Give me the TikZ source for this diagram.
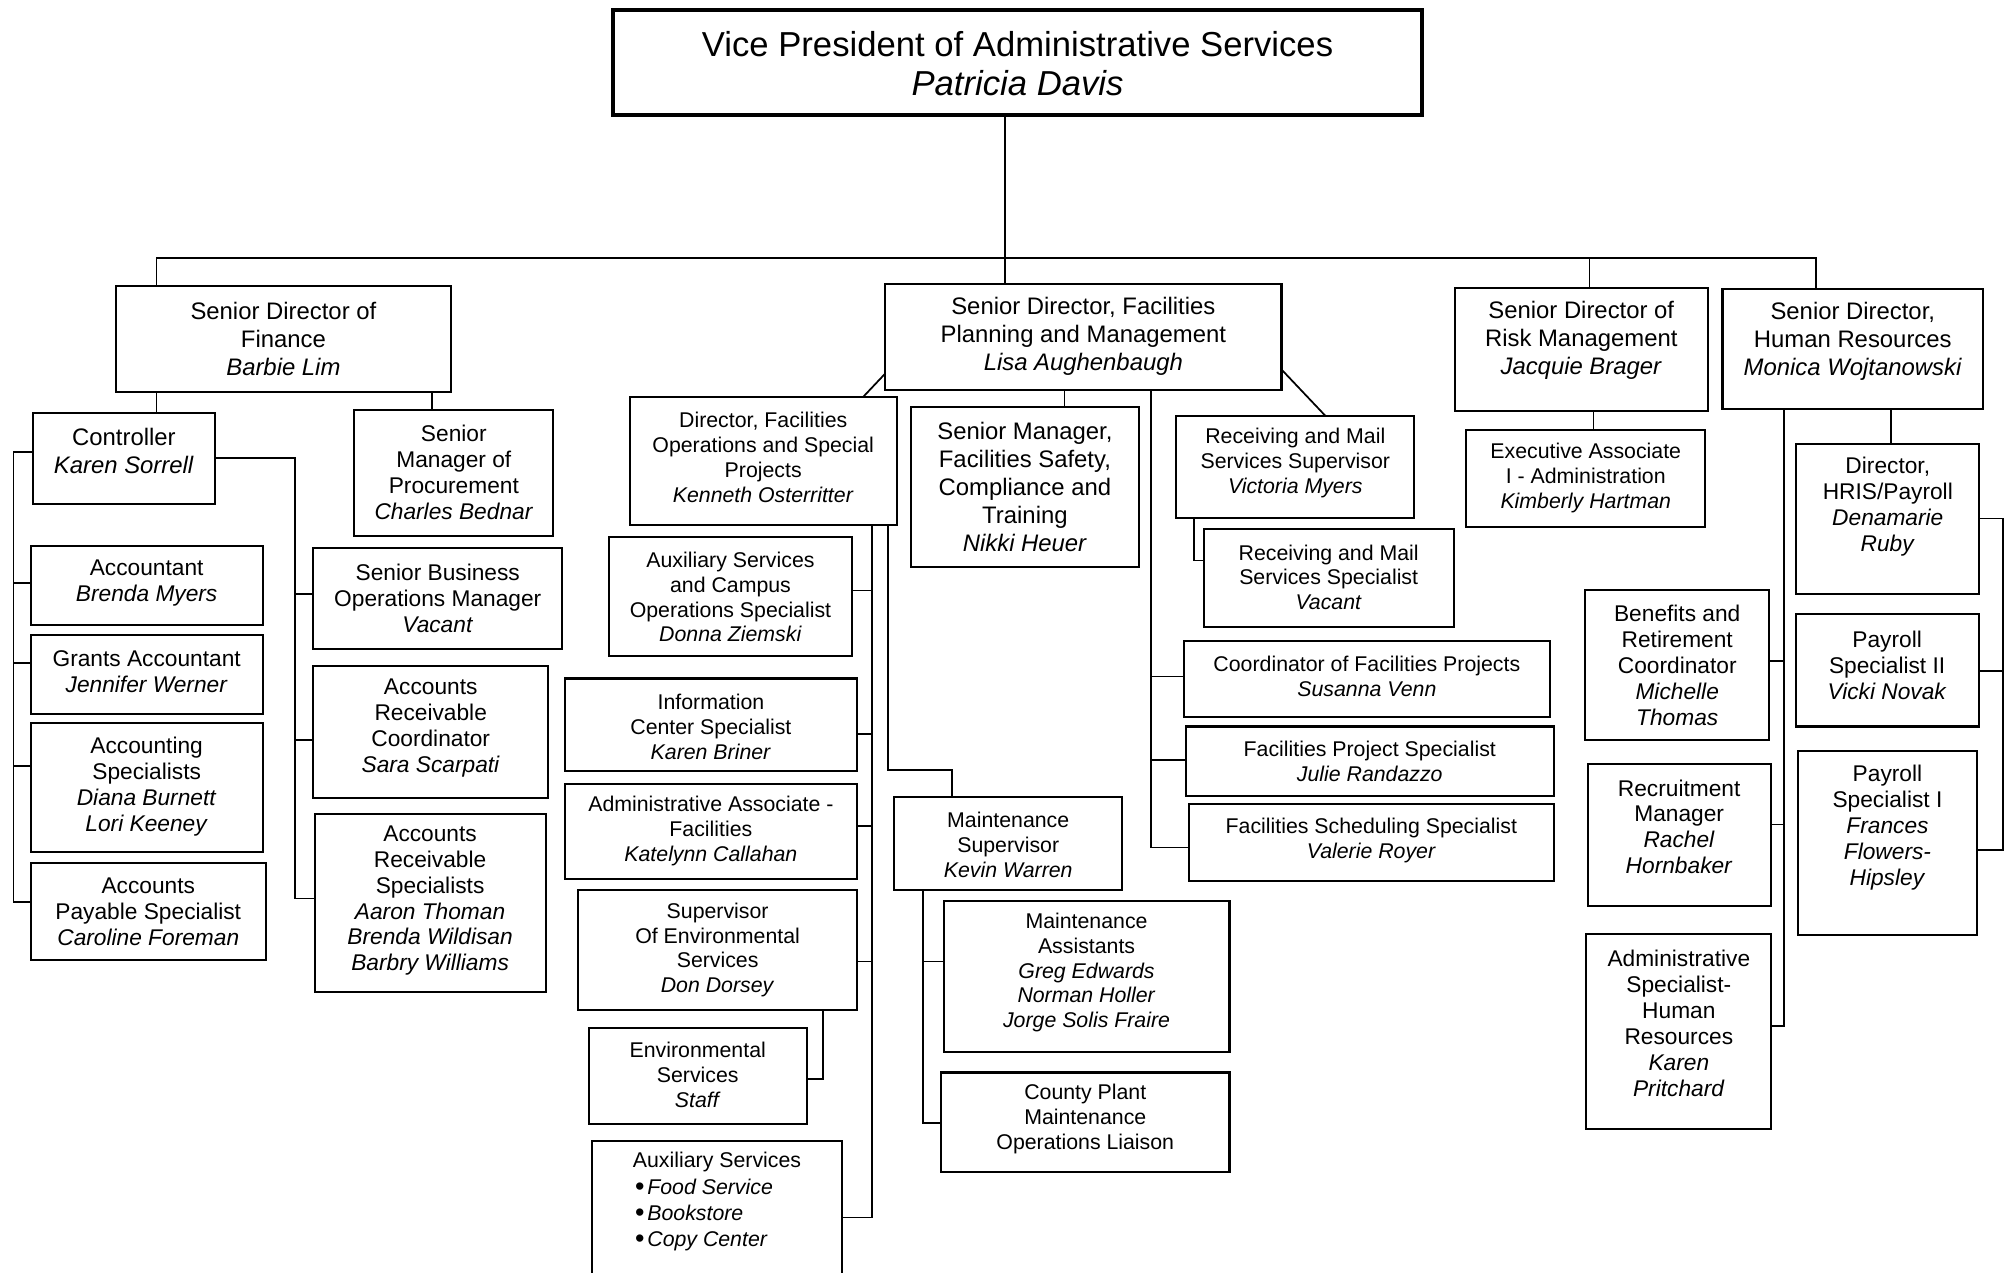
\documentclass[tikz,border=0pt]{standalone}
\usepackage{fontspec}
\setmainfont{Liberation Sans}
\newcommand\bx[8]{%
  \node[box, minimum width={#4-#2}, minimum height={#5-#3}, anchor=north west] (#1) at (#2,#3) {};
  \node[#6] (#1t) at ({(#2+#4)/2},#7) {#8};
}
\newcommand\brW[3]{\coordinate (tmpb) at (#1,#2); \draw[conn] (tmpb) -- (#3.west |- tmpb);}
\newcommand\brE[3]{\coordinate (tmpb) at (#1,#2); \draw[conn] (tmpb) -- (#3.east |- tmpb);}
\newcommand\bul{{\fontsize{21}{20}\selectfont\raisebox{-0.6pt}{•}}\hspace{2.2pt}}
\begin{document}
\begin{tikzpicture}[x=1pt,y=-1pt,
  box/.style={draw, line width=1.6pt, inner sep=0pt, outer sep=0pt},
  conn/.style={line width=1.35pt},
  txt/.style={align=center, inner sep=0pt},
  big/.style={txt, font=\fontsize{18.6}{21.8}\selectfont},
  mid/.style={txt, font=\fontsize{17.7}{20.2}\selectfont},
  sml/.style={txt, font=\fontsize{16.6}{19.4}\selectfont},
  ttl/.style={txt, font=\fontsize{27}{31}\selectfont}]
\useasboundingbox (0,0) rectangle (1568,991);
\fill[white] (0,0) rectangle (1568,991);

% top
\node[box, line width=3pt, minimum width=630.2, minimum height=81.7, anchor=north west] (vp) at (477.5,8) {};
\node[ttl] (vpt) at (792.6,49.5) {Vice President of Administrative Services\\\textit{Patricia Davis}};

\bx{fin}{90.5}{223}{351}{305.6}{big}{264}{Senior Director of\\Finance\\\textit{Barbie Lim}}
\bx{fac}{689.5}{221}{998.2}{303.7}{big}{262}{Senior Director, Facilities\\Planning and Management\\\textit{Lisa Aughenbaugh}}
\bx{risk}{1133.2}{224.2}{1330.2}{320.2}{big}{265}{Senior Director of\\Risk Management\\\textit{Jacquie Brager}}
\bx{hr}{1341.7}{224.8}{1544.7}{318.3}{big}{265.5}{Senior Director,\\Human Resources\\\textit{Monica Wojtanowski}}

% finance
\bx{ctrl}{25.5}{321.5}{167.5}{392.7}{big}{351.5}{Controller\\\textit{Karen Sorrell}}
\bx{proc}{276}{319}{431}{417.2}{mid}{368}{Senior\\Manager of\\Procurement\\\textit{Charles Bednar}}
\bx{acct}{24}{425}{204.5}{486.5}{mid}{454}{Accountant\\\textit{Brenda Myers}}
\bx{grants}{24}{494.4}{204.5}{555.8}{mid}{523}{Grants Accountant\\\textit{Jennifer Werner}}
\bx{acctspec}{24}{563}{204.5}{664}{mid}{612.5}{Accounting\\Specialists\\\textit{Diana Burnett}\\\textit{Lori Keeney}}
\bx{ap}{24}{672}{207}{747.7}{mid}{710.5}{Accounts\\Payable Specialist\\\textit{Caroline Foreman}}
\bx{sbo}{244}{426.7}{438}{505.5}{mid}{466}{Senior Business\\Operations Manager\\\textit{Vacant}}
\bx{arc}{244}{518.7}{427}{621.6}{mid}{567}{Accounts\\Receivable\\Coordinator\\\textit{Sara Scarpati}}
\bx{ars}{245}{634.1}{425}{772.8}{mid}{701.5}{Accounts\\Receivable\\Specialists\\\textit{Aaron Thoman}\\\textit{Brenda Wildisan}\\\textit{Barbry Williams}}

% facilities
\bx{dirops}{490.5}{309}{698.5}{408.6}{sml}{356}{Director, Facilities\\Operations and Special\\Projects\\\textit{Kenneth Osterritter}}
\bx{auxcamp}{474}{418}{664}{511.2}{sml}{465}{Auxiliary Services\\and Campus\\Operations Specialist\\\textit{Donna Ziemski}}
\bx{info}{440}{528.5}{667.5}{600.5}{sml}{566}{Information\\Center Specialist\\\textit{Karen Briner}}
\bx{admin}{440}{610.5}{667.5}{684.4}{sml}{647}{Administrative Associate -\\Facilities\\\textit{Katelynn Callahan}}
\bx{supenv}{450.5}{693}{667.5}{786.7}{sml}{740}{Supervisor\\Of Environmental\\Services\\\textit{Don Dorsey}}
\bx{staff}{458.5}{800.5}{628.5}{875.3}{sml}{837}{Environmental\\Services\\\textit{Staff}}
\node[box, minimum width=195, minimum height=112, anchor=north west] (auxsvc) at (461,888.5) {};
\node[sml] (auxsvct) at (558.5,905) {Auxiliary Services};
\node[txt, font=\fontsize{16.6}{20.2}\selectfont, align=left, anchor=west] (auxsvcl) at (494.5,946.5) {\bul\textit{Food Service}\\\bul\textit{Bookstore}\\\bul\textit{Copy Center}};
\bx{maint}{696.5}{621}{874.2}{693.6}{sml}{658}{Maintenance\\Supervisor\\\textit{Kevin Warren}}
\bx{mass}{735}{701.7}{957.7}{819.4}{sml}{757.5}{Maintenance\\Assistants\\\textit{Greg Edwards}\\\textit{Norman Holler}\\\textit{Jorge Solis Fraire}}
\bx{county}{733}{835.4}{957.7}{913}{sml}{871.7}{County Plant\\Maintenance\\Operations Liaison}
\bx{safety}{709.5}{317.3}{887.2}{441.7}{big}{379.6}{Senior Manager,\\Facilities Safety,\\Compliance and\\Training\\\textit{Nikki Heuer}}
\bx{recsup}{916.2}{323.7}{1101.7}{403.8}{sml}{360.7}{Receiving and Mail\\Services Supervisor\\\textit{Victoria Myers}}
\bx{recspec}{937.7}{412.4}{1132.2}{488.1}{sml}{449.7}{Receiving and Mail\\Services Specialist\\\textit{Vacant}}
\bx{coord}{922.2}{499.5}{1207.2}{558.7}{sml}{527}{Coordinator of Facilities Projects\\\textit{Susanna Venn}}
\bx{projspec}{923.7}{565.9}{1210.2}{620}{sml}{593}{Facilities Project Specialist\\\textit{Julie Randazzo}}
\bx{sched}{926.2}{626.6}{1210.2}{686.3}{sml}{654.5}{Facilities Scheduling Specialist\\\textit{Valerie Royer}}

% risk
\bx{exec}{1142.2}{335.1}{1328.2}{410.5}{sml}{372.5}{Executive Associate\\I - Administration\\\textit{Kimberly Hartman}}

% hr
\bx{hris}{1399.2}{345.6}{1541.7}{463}{mid}{394.5}{Director,\\HRIS/Payroll\\\textit{Denamarie}\\\textit{Ruby}}
\bx{pay2}{1398.7}{478.5}{1541.2}{565.9}{mid}{518}{Payroll\\Specialist II\\\textit{Vicki Novak}}
\bx{pay1}{1400.2}{585.1}{1540.2}{728.5}{mid}{644.5}{Payroll\\Specialist I\\\textit{Frances}\\\textit{Flowers-}\\\textit{Hipsley}}
\bx{benefits}{1234.7}{459.5}{1378.2}{576.6}{mid}{518.5}{Benefits and\\Retirement\\Coordinator\\\textit{Michelle}\\\textit{Thomas}}
\bx{recruit}{1236.7}{595.1}{1379.2}{705.5}{mid}{644}{Recruitment\\Manager\\\textit{Rachel}\\\textit{Hornbaker}}
\bx{adminhr}{1235.7}{727.8}{1379.7}{879.7}{mid}{797}{Administrative\\Specialist-\\Human\\Resources\\\textit{Karen}\\\textit{Pritchard}}

% ---- connectors ----
\coordinate (vpx) at (783,0);
\draw[conn] (vp.south -| vpx) -- (fac.north -| vpx);
\coordinate (busL) at (122,201);
\coordinate (busR) at (1414.7,201);
\coordinate (busK) at (1238.2,201);
\draw[conn] (fin.north -| busL) -- (busL) -- (busR) -- (hr.north -| busR);
\draw[conn] (busK) -- (risk.north -| busK);
% finance
\draw[conn] (fin.south -| busL) -- (ctrl.north -| busL);
\coordinate (px) at (336.5,0);
\draw[conn] (fin.south -| px) -- (proc.north -| px);
\coordinate (cL) at (10.5,352.3);
\coordinate (cLb) at (10.5,702.4);
\draw[conn] (ctrl.west |- cL) -- (cL) -- (cLb) -- (ap.west |- cLb);
\brW{10.5}{454}{acct}
\brW{10.5}{516.5}{grants}
\brW{10.5}{596.7}{acctspec}
\coordinate (cR) at (229.5,356.8);
\coordinate (cRb) at (229.5,699.9);
\draw[conn] (ctrl.east |- cR) -- (cR) -- (cRb) -- (ars.west |- cRb);
\brW{229.5}{462.6}{sbo}
\brW{229.5}{576.3}{arc}
% facilities
\coordinate (dg) at (0,291);
\coordinate (dgx) at (672.5,0);
\draw[conn] (fac.west |- dg) -- (dirops.north -| dgx);
\coordinate (oA) at (679.5,948.3);
\draw[conn] (dirops.south -| oA) -- (oA) -- (auxsvc.east |- oA);
\brE{679.5}{460}{auxcamp}
\brE{679.5}{571.9}{info}
\brE{679.5}{643.6}{admin}
\brE{679.5}{749}{supenv}
\coordinate (oB) at (691.5,599.9);
\coordinate (oB2) at (741.5,599.9);
\draw[conn] (dirops.south -| oB) -- (oB) -- (oB2) -- (maint.north -| oB2);
\coordinate (sx) at (641,840.7);
\draw[conn] (supenv.south -| sx) -- (sx) -- (staff.east |- sx);
\coordinate (mx) at (719,874.7);
\draw[conn] (maint.south -| mx) -- (mx) -- (county.west |- mx);
\brW{719}{749}{mass}
\coordinate (sfx) at (829.2,0);
\draw[conn] (fac.south -| sfx) -- (safety.north -| sfx);
\coordinate (fr) at (896.7,660.2);
\draw[conn] (fac.south -| fr) -- (fr) -- (sched.west |- fr);
\brW{896.7}{526.9}{coord}
\brW{896.7}{591.7}{projspec}
\coordinate (rg) at (0,287.8);
\coordinate (rgx) at (1032.2,0);
\draw[conn] (fac.east |- rg) -- (recsup.north -| rgx);
\coordinate (rx) at (930.2,436.6);
\draw[conn] (recsup.south -| rx) -- (rx) -- (recspec.west |- rx);
% risk
\coordinate (kx) at (1241.2,0);
\draw[conn] (risk.south -| kx) -- (exec.north -| kx);
% hr
\coordinate (hx) at (1473.2,0);
\draw[conn] (hr.south -| hx) -- (hris.north -| hx);
\coordinate (hl) at (1389.7,799);
\draw[conn] (hr.south -| hl) -- (hl) -- (adminhr.east |- hl);
\brE{1389.7}{515}{benefits}
\brE{1389.7}{642.3}{recruit}
\coordinate (hr1) at (1560.2,403.8);
\coordinate (hr2) at (1560.2,662.1);
\draw[conn] (hris.east |- hr1) -- (hr1) -- (hr2) -- (pay1.east |- hr2);
\brE{1560.2}{522.8}{pay2}
\end{tikzpicture}
\end{document}
